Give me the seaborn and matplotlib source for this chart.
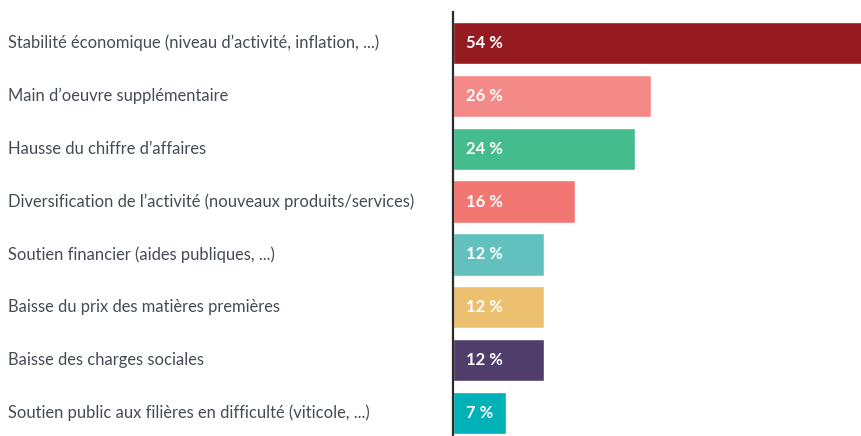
import matplotlib
matplotlib.use("Agg")
import matplotlib.pyplot as plt
import matplotlib.transforms as mtransforms
import seaborn as sns
import pandas as pd

# --- données ---
categories = [
    "Stabilité économique (niveau d’activité, inflation, ...)",
    "Main d’oeuvre supplémentaire",
    "Hausse du chiffre d’affaires",
    "Diversification de l’activité (nouveaux produits/services)",
    "Soutien financier (aides publiques, ...)",
    "Baisse du prix des matières premières",
    "Baisse des charges sociales",
    "Soutien public aux filières en difficulté (viticole, ...)",
]
values = [54, 26, 24, 16, 12, 12, 12, 7]
value_labels = ["54 %", "26 %", "24 %", "16 %", "12 %", "12 %", "12 %", "7 %"]
colors = ["#961B20", "#F38A87", "#45BC8E", "#F27672",
          "#62C1BF", "#EDC070", "#4F3D6B", "#00B1B7"]

df = pd.DataFrame({"cat": categories, "val": values})

sns.set_style("white")
plt.rcParams["font.family"] = ["Lato", "DejaVu Sans"]

fig = plt.figure(figsize=(8.61, 4.36), dpi=100)
ax = fig.add_axes([453 / 861, 0, 1 - 453 / 861, 424 / 436])

sns.barplot(data=df, x="val", y="cat", hue="cat", palette=colors,
            legend=False, width=0.8, saturation=1, orient="h", ax=ax)

ax.set_xlim(0, 53.7)
ax.set_ylim(7.435, -0.586)
ax.set_xlabel("")
ax.set_ylabel("")
ax.set_xticks([])
ax.set_yticks([])

for s in ["top", "right", "bottom"]:
    ax.spines[s].set_visible(False)
ax.spines["left"].set_color("#2b2b2b")
ax.spines["left"].set_linewidth(1.6)
ax.spines["left"].set_zorder(5)

# libellés des catégories, alignés à gauche de la figure
trans = mtransforms.blended_transform_factory(fig.transFigure, ax.transData)
for i, c in enumerate(categories):
    ax.text(8 / 861, i, c, transform=trans, ha="left", va="center",
            fontsize=11.9, color="#454C56", clip_on=False)

# valeurs dans les barres
for i, lab in enumerate(value_labels):
    ax.annotate(lab, xy=(0, i), xytext=(9, 0), textcoords="offset points",
                ha="left", va="center", fontsize=12, fontweight="bold",
                color="white")

fig.savefig("out.png", dpi=100)
